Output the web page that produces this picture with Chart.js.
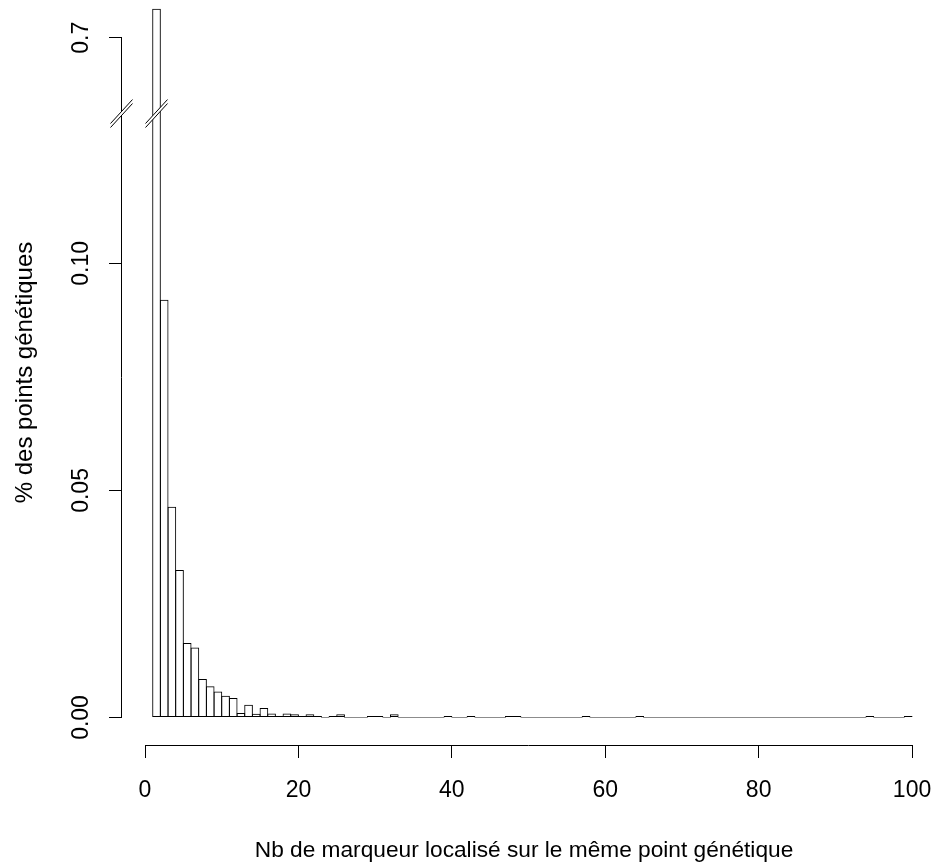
<!DOCTYPE html>
<html>
<head>
<meta charset="utf-8">
<title>Nb de marqueur localisé sur le même point génétique</title>
<script src="https://cdn.jsdelivr.net/npm/chart.js@4.4.1/dist/chart.umd.min.js"></script>
<style>
  html, body { margin: 0; padding: 0; background: #fff; }
  #wrap { position: relative; width: 939px; height: 863px; }
</style>
</head>
<body>
<div id="wrap"><canvas id="hist"></canvas></div>
<script>
// ─── Data (bins of width 1) ──────────────────────────────────
const BIN_LEFT = [
   1,  2,  3,  4,  5,  6,  7,  8,  9, 10,
  11, 12, 13, 14, 15, 16, 17, 18, 19, 20,
  21, 22, 23, 24, 25, 26, 27, 28, 29, 30,
  31, 32, 33, 34, 35, 36, 37, 38, 39, 40,
  41, 42, 43, 44, 45, 46, 47, 48, 49, 50,
  51, 52, 53, 54, 55, 56, 57, 58, 59, 60,
  61, 62, 63, 64, 65, 66, 67, 68, 69, 70,
  71, 72, 73, 74, 75, 76, 77, 78, 79, 80,
  81, 82, 83, 84, 85, 86, 87, 88, 89, 90,
  91, 92, 93, 94, 95, 96, 97, 98, 99,
];

const DENSITY = [
  0.7064, 0.0920, 0.0464, 0.0325, 0.0164, 0.0154, 0.0085, 0.0069, 0.0057, 0.0048,
  0.0043, 0.0010, 0.0028, 0.0008, 0.0021, 0.0009, 0.0003, 0.0009, 0.0007, 0.0003,
  0.0007, 0.0003, 0,      0.0003, 0.0007, 0,      0,      0,      0.0003, 0.0003,
  0,      0.0007, 0,      0,      0,      0,      0,      0,      0.0003, 0,
  0,      0.0003, 0,      0,      0,      0,      0.0003, 0.0003, 0,      0,
  0,      0,      0,      0,      0,      0,      0.0003, 0,      0,      0,
  0,      0,      0,      0.0003, 0,      0,      0,      0,      0,      0,
  0,      0,      0,      0,      0,      0,      0,      0,      0,      0,
  0,      0,      0,      0,      0,      0,      0,      0,      0,      0,
  0,      0,      0,      0.0003, 0,      0,      0,      0,      0.0003,
];

const X_TICKS = [0, 20, 40, 60, 80, 100];
const Y_TICKS = [0, 0.05, 0.10, 0.7];
const Y_TICK_LABELS = ['0.00', '0.05', '0.10', '0.7'];

const X_TITLE = 'Nb de marqueur localisé sur le même point génétique';
const Y_TITLE = '% des points génétiques';

// y-axis break: everything between GAP_FROM and GAP_TO is cut out
const GAP_FROM = 0.133;
const GAP_TO   = 0.6833;

const FONT = "'Liberation Sans', Arial, sans-serif";

// ─── Broken linear scale ─────────────────────────────────────
function squashGap(v) {
  if (v >= GAP_TO) return v - (GAP_TO - GAP_FROM);
  return Math.min(v, GAP_FROM);
}
function unsquashGap(v) {
  return v > GAP_FROM ? v + (GAP_TO - GAP_FROM) : v;
}

class BrokenLinearScale extends Chart.LinearScale {
  configure() {
    super.configure();
    this._valueRange = squashGap(this.max) - this._startValue;
  }
  getPixelForValue(value) {
    if (value === null || value === undefined) return NaN;
    return super.getPixelForValue(squashGap(value));
  }
  getValueForPixel(pixel) {
    return unsquashGap(super.getValueForPixel(pixel));
  }
}
BrokenLinearScale.id = 'brokenLinear';
BrokenLinearScale.defaults = {};
Chart.register(BrokenLinearScale);

// fixed box size, and no extra room reserved for end labels
function fixBox(size) {
  return s => {
    if (s.isHorizontal()) s.height = size; else s.width = size;
    s.paddingLeft = s.paddingRight = s.paddingTop = s.paddingBottom = 0;
  };
}

// ─── R-style axes: line only from first to last tick, plus // marks ──
function drawSlash(ctx, cx, cy) {
  const dx = 11, dy = 12, g = 2;
  ctx.beginPath();
  ctx.moveTo(cx - dx, cy + dy + g);
  ctx.lineTo(cx + dx, cy - dy + g);
  ctx.lineTo(cx + dx, cy - dy - g);
  ctx.lineTo(cx - dx, cy + dy - g);
  ctx.closePath();
  ctx.fillStyle = '#fff';
  ctx.fill();
  ctx.beginPath();
  ctx.moveTo(cx - dx, cy + dy + g);
  ctx.lineTo(cx + dx, cy - dy + g);
  ctx.moveTo(cx - dx, cy + dy - g);
  ctx.lineTo(cx + dx, cy - dy - g);
  ctx.stroke();
}

const rAxes = {
  id: 'rAxes',
  afterDraw(chart) {
    const { ctx, chartArea, scales: { x, y } } = chart;
    ctx.save();
    ctx.strokeStyle = '#000';
    ctx.lineWidth = 1;

    const ax = Math.round(chartArea.left) - 0.5;
    const ay = Math.round(chartArea.bottom) + 0.5;
    ctx.beginPath();
    ctx.moveTo(ax, y.getPixelForValue(Y_TICKS[0]));
    ctx.lineTo(ax, y.getPixelForValue(Y_TICKS[Y_TICKS.length - 1]));
    ctx.moveTo(x.getPixelForValue(X_TICKS[0]), ay);
    ctx.lineTo(x.getPixelForValue(X_TICKS[X_TICKS.length - 1]), ay);
    ctx.stroke();

    const by = y.getPixelForValue(GAP_FROM);
    drawSlash(ctx, ax, by);
    drawSlash(ctx, x.getPixelForValue(BIN_LEFT[0] + 0.5), by);
    ctx.restore();
  },
};

// ─── Chart ───────────────────────────────────────────────────
Chart.defaults.font.family = FONT;
Chart.defaults.font.size   = 23;
Chart.defaults.color       = '#000';

new Chart(document.getElementById('hist'), {
  type: 'bar',
  data: {
    datasets: [{
      data: BIN_LEFT.map((l, i) => ({ x: l + 0.5, y: DENSITY[i] })),
      backgroundColor: 'rgba(0,0,0,0)',
      borderColor: ctx => (ctx.raw && ctx.raw.y === 0 ? '#8c8c8c' : '#000'),
      borderWidth: 1,
      borderSkipped: false,
      inflateAmount: 0,
      barPercentage: 1.13,
      categoryPercentage: 1,
      minBarLength: 1,
    }],
  },
  options: {
    responsive: true,
    maintainAspectRatio: false,
    animation: false,
    layout: { padding: { left: 0, top: 0, bottom: 0, right: 13 }, autoPadding: false },
    plugins: {
      legend:  { display: false },
      tooltip: { enabled: false },
    },
    scales: {
      x: {
        type: 'linear',
        min: -3.0,
        max: 101.82,
        offset: false,
        afterBuildTicks: s => { s.ticks = X_TICKS.map(v => ({ value: v })); },
        afterFit: fixBox(118),
        ticks: {
          autoSkip: false,
          maxRotation: 0,
          padding: 19,
          color: '#000',
          callback: v => String(v),
        },
        grid: {
          offset: false,
          drawOnChartArea: false,
          tickLength: 13,
          color: '#000',
          tickColor: '#000',
        },
        border: { display: false },
        title: {
          display: true,
          text: X_TITLE,
          color: '#000',
          font: { size: 22.7 },
          padding: { top: 0, bottom: -1 },
        },
      },
      y: {
        type: 'brokenLinear',
        min: -0.00606,
        max: 0.7083,
        afterBuildTicks: s => { s.ticks = Y_TICKS.map(v => ({ value: v })); },
        afterFit: fixBox(122),
        ticks: {
          autoSkip: false,
          minRotation: 90,
          maxRotation: 90,
          crossAlign: 'center',
          padding: 5,
          color: '#000',
          callback: (v, i) => Y_TICK_LABELS[i],
        },
        grid: {
          drawOnChartArea: false,
          tickLength: 13,
          color: '#000',
          tickColor: '#000',
        },
        border: { display: false },
        title: {
          display: true,
          text: Y_TITLE,
          color: '#000',
          font: { size: 24 },
          padding: { top: 11, bottom: 0 },
        },
      },
    },
  },
  plugins: [rAxes],
});
</script>
</body>
</html>
